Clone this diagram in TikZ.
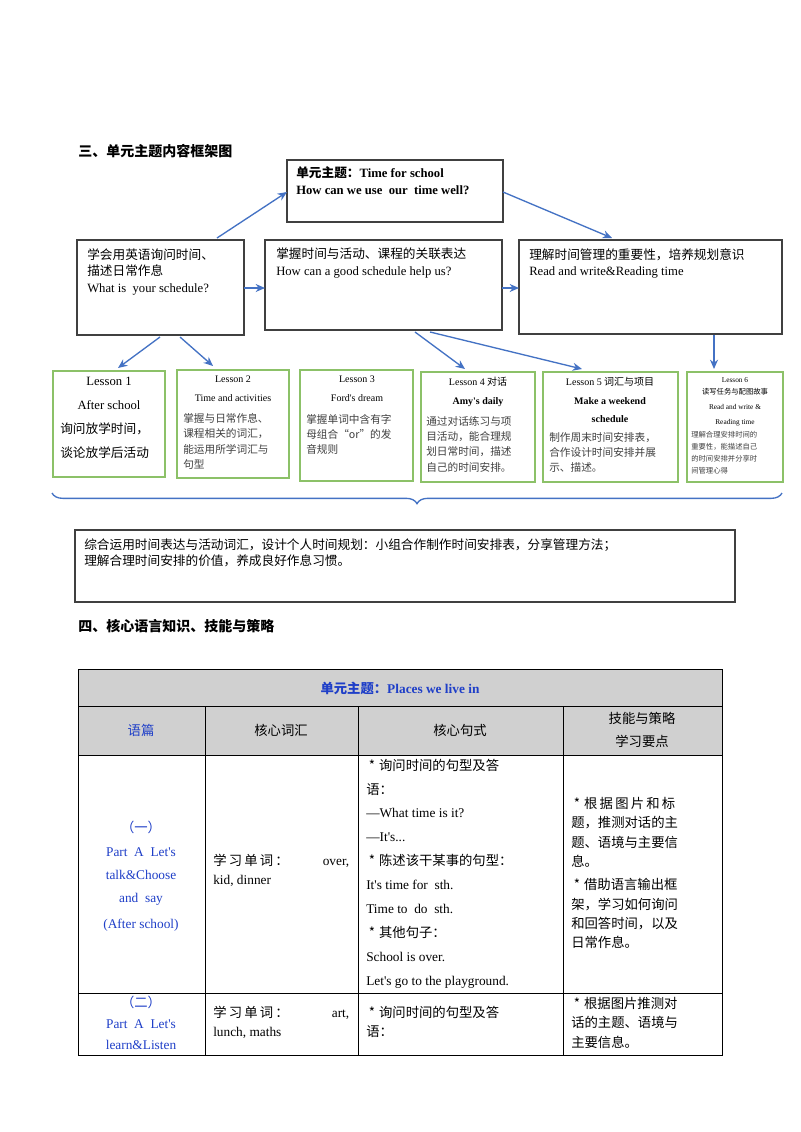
\documentclass[tikz,border=0pt]{standalone}
\usepackage{fontspec}
\setmainfont{Noto Sans CJK SC}
\newfontfamily\lat{Liberation Serif}
\usetikzlibrary{decorations.pathreplacing,arrows.meta}
\definecolor{arr}{HTML}{4472C4}
\definecolor{grn}{HTML}{8CC168}
\definecolor{bl}{HTML}{1F3FC8}
\definecolor{hdr}{HTML}{D0D0D0}
\newcommand{\bul}{\hspace{2pt}*\hspace{3pt}}
\tikzset{
 box/.style={draw=black!75,line width=0.8pt},
 lbox/.style={draw=grn,line width=1.2pt},
 ar/.style={draw=arr,line width=1pt,-{Stealth[length=7pt,width=6pt]}},
 tx/.style={anchor=north west,inner sep=0pt,align=left,font=\fontsize{9.5}{12.5}\selectfont},
 ct/.style={anchor=north,inner sep=0pt,align=center},
 cell/.style={draw=black,line width=0.6pt},
}
\begin{document}
\begin{tikzpicture}[x=0.75pt,y=-0.75pt]
\useasboundingbox (0,0) rectangle (800,1132);
\fill[white] (0,0) rectangle (800,1132);
\node[tx,font=\fontsize{10.5}{13}\selectfont\bfseries] (h3) at (78,144) {三、单元主题内容框架图};
% top box
\draw[box] (287,160) rectangle (503,222);
\node[tx,font=\fontsize{9.5}{13}\selectfont\bfseries] (toptx) at (296,166) {单元主题：{\lat Time for school}\\{\lat How can we use\ \ our\ \ time well?}};
% row boxes
\draw[box] (77,240) rectangle (244,335);
\draw[box] (265,240) rectangle (502,330);
\draw[box] (519,240) rectangle (782,334);
\node[tx] (ta) at (87,248) {学会用英语询问时间、\\描述日常作息\\{\lat What is\ \ your schedule?}};
\node[tx] (tb) at (276,248) {掌握时间与活动、课程的关联表达\\{\lat How can a good schedule help us?}};
\node[tx] (tc) at (529,248) {理解时间管理的重要性，培养规划意识\\{\lat Read and write\&Reading time}};
\coordinate (a1) at (217,238); \coordinate (t1) at (287,192);
\coordinate (t2) at (503,192); \coordinate (c1) at (612,238);
\draw[ar] (a1) -- (t1);
\draw[ar] (t2) -- (c1);
\coordinate (ar1) at (244,288); \coordinate (bl1) at (265,288);
\coordinate (br1) at (502,288); \coordinate (cl1) at (519,288);
\draw[ar] (ar1) -- (bl1);
\draw[ar] (br1) -- (cl1);
\coordinate (ab1) at (160,337); \coordinate (ab2) at (180,337);
\coordinate (l1t) at (118,368); \coordinate (l2t) at (213,366);
\draw[ar] (ab1) -- (l1t);
\draw[ar] (ab2) -- (l2t);
\coordinate (bb1) at (415,332); \coordinate (bb2) at (430,332);
\coordinate (l4t) at (465,369); \coordinate (l5t) at (582,369);
\draw[ar] (bb1) -- (l4t);
\draw[ar] (bb2) -- (l5t);
\coordinate (cb) at (714,335); \coordinate (l6t) at (714,369);
\draw[ar] (cb) -- (l6t);
% lessons
\draw[lbox] (53,371) rectangle (165,477);
\draw[lbox] (177,370) rectangle (289,478);
\draw[lbox] (300,370) rectangle (413,481);
\draw[lbox] (421,372) rectangle (535,482);
\draw[lbox] (543,372) rectangle (678,482);
\draw[lbox] (687,372) rectangle (783,482);
\node[ct,font=\fontsize{9.5}{18}\selectfont] (L1) at (109,377) {\lat Lesson 1\\\lat After school};
\node[tx,font=\fontsize{9.5}{18}\selectfont] (L1b) at (60,422) {询问放学时间，\\谈论放学后活动};
\node[ct,font=\fontsize{7.5}{14}\selectfont] (L2) at (233,376) {\lat Lesson 2\\\lat Time and activities};
\node[tx,font=\fontsize{8}{11.5}\selectfont,text=black!75] (L2b) at (183,413) {掌握与日常作息、\\课程相关的词汇，\\能运用所学词汇与\\句型};
\node[ct,font=\fontsize{7.5}{14}\selectfont] (L3) at (357,376) {\lat Lesson 3\\\lat Ford's dream};
\node[tx,font=\fontsize{8}{11.5}\selectfont,text=black!75] (L3b) at (306,414) {掌握单词中含有字\\母组合“or”的发\\音规则};
\node[ct,font=\fontsize{7.5}{14}\selectfont] (L4) at (478,377) {{\lat Lesson 4} 对话\\\lat\bfseries Amy's daily};
\node[tx,font=\fontsize{8}{11.5}\selectfont,text=black!75] (L4b) at (426,416) {通过对话练习与项\\目活动，能合理规\\划日常时间，描述\\自己的时间安排。};
\node[ct,font=\fontsize{7.5}{14}\selectfont] (L5) at (610,377) {{\lat Lesson 5} 词汇与项目\\\lat\bfseries Make a weekend\\\lat\bfseries schedule};
\node[tx,font=\fontsize{8}{11.5}\selectfont,text=black!75] (L5b) at (549,432) {制作周末时间安排表，\\合作设计时间安排并展\\示、描述。};
\node[ct,font=\fontsize{5.5}{9}\selectfont] (L6) at (735,377) {\lat Lesson 6\\读写任务与配图故事};
\node[ct,font=\fontsize{5.5}{11}\selectfont] (L6a) at (735,404) {\lat Read and write \&\\\lat Reading time};
\node[tx,font=\fontsize{5.5}{9}\selectfont,text=black!75] (L6b) at (691,431) {理解合理安排时间的\\重要性，能描述自己\\的时间安排并分享时\\间管理心得};
% brace
\draw[arr,line width=1pt,decorate,decoration={brace,mirror,amplitude=8pt}] (52,493) -- (782,493);
% bottom box
\draw[box] (75,530) rectangle (735,602);
\node[tx] (sum) at (84,538) {综合运用时间表达与活动词汇，设计个人时间规划：小组合作制作时间安排表，分享管理方法；\\理解合理时间安排的价值，养成良好作息习惯。};
\node[tx,font=\fontsize{10.5}{13}\selectfont\bfseries] (h4) at (78,619) {四、核心语言知识、技能与策略};
% table
\fill[hdr] (78,669) rectangle (722,755);
\draw[cell] (78,669) rectangle (722,1055);
\draw[cell] (78,706) -- (722,706) (78,755) -- (722,755) (78,993) -- (722,993);
\foreach \x in {205,358,563} \draw[cell] (\x,706) -- (\x,1055);
\node[font=\fontsize{10}{12}\selectfont\bfseries,text=bl] (tt) at (400,688) {单元主题：{\lat Places we live in}};
\node[font=\fontsize{10}{12}\selectfont,text=bl] (c1h) at (141,730) {语篇};
\node[font=\fontsize{10}{12}\selectfont] (c2h) at (281,730) {核心词汇};
\node[font=\fontsize{10}{12}\selectfont] (c3h) at (460,730) {核心句式};
\node[align=center,font=\fontsize{10}{17}\selectfont] (c4h) at (642,730) {技能与策略\\学习要点};
\node[ct,text=bl,font=\fontsize{10}{17.5}\selectfont] (r1c1) at (141,821) {（一）\\\lat Part\ \ A\ \ Let's\\\lat talk\&Choose\\\lat and\ \ say\\[2pt]\lat (After school)};
\node[tx,font=\fontsize{10}{14}\selectfont] (r1c2) at (213,854) {\makebox[102pt][l]{学\,习\,单\,词\,：\hfill{\lat over,}}\\{\lat kid, dinner}};
\node[tx,font=\fontsize{10}{18}\selectfont] (r1c3) at (366,759) {\bul 询问时间的句型及答\\语：\\[-1pt]{\lat—What time is it?}\\{\lat—It's...}\\\bul 陈述该干某事的句型：\\{\lat It's time for\ \ sth.}\\{\lat Time to\ \ do\ \ sth.}\\\bul 其他句子：\\{\lat School is over.}\\{\lat Let's go to the playground.}};
\node[tx,font=\fontsize{10}{14.5}\selectfont] (r1c4) at (571,797) {\bul 根\,据\,图\,片\,和\,标\\题，推测对话的主\\题、语境与主要信\\息。\\[3pt]\bul 借助语言输出框\\架，学习如何询问\\和回答时间，以及\\日常作息。};
\node[ct,text=bl,font=\fontsize{10}{15.5}\selectfont] (r2c1) at (141,996) {（二）\\\lat Part\ \ A\ \ Let's\\\lat learn\&Listen};
\node[tx,font=\fontsize{10}{14}\selectfont] (r2c2) at (213,1006) {\makebox[102pt][l]{学\,习\,单\,词\,：\hfill{\lat art,}}\\{\lat lunch, maths}};
\node[tx,font=\fontsize{10}{14}\selectfont] (r2c3) at (366,1006) {\bul 询问时间的句型及答\\语：};
\node[tx,font=\fontsize{10}{14.5}\selectfont] (r2c4) at (571,997) {\bul 根据图片推测对\\话的主题、语境与\\主要信息。};
\end{tikzpicture}
\end{document}
